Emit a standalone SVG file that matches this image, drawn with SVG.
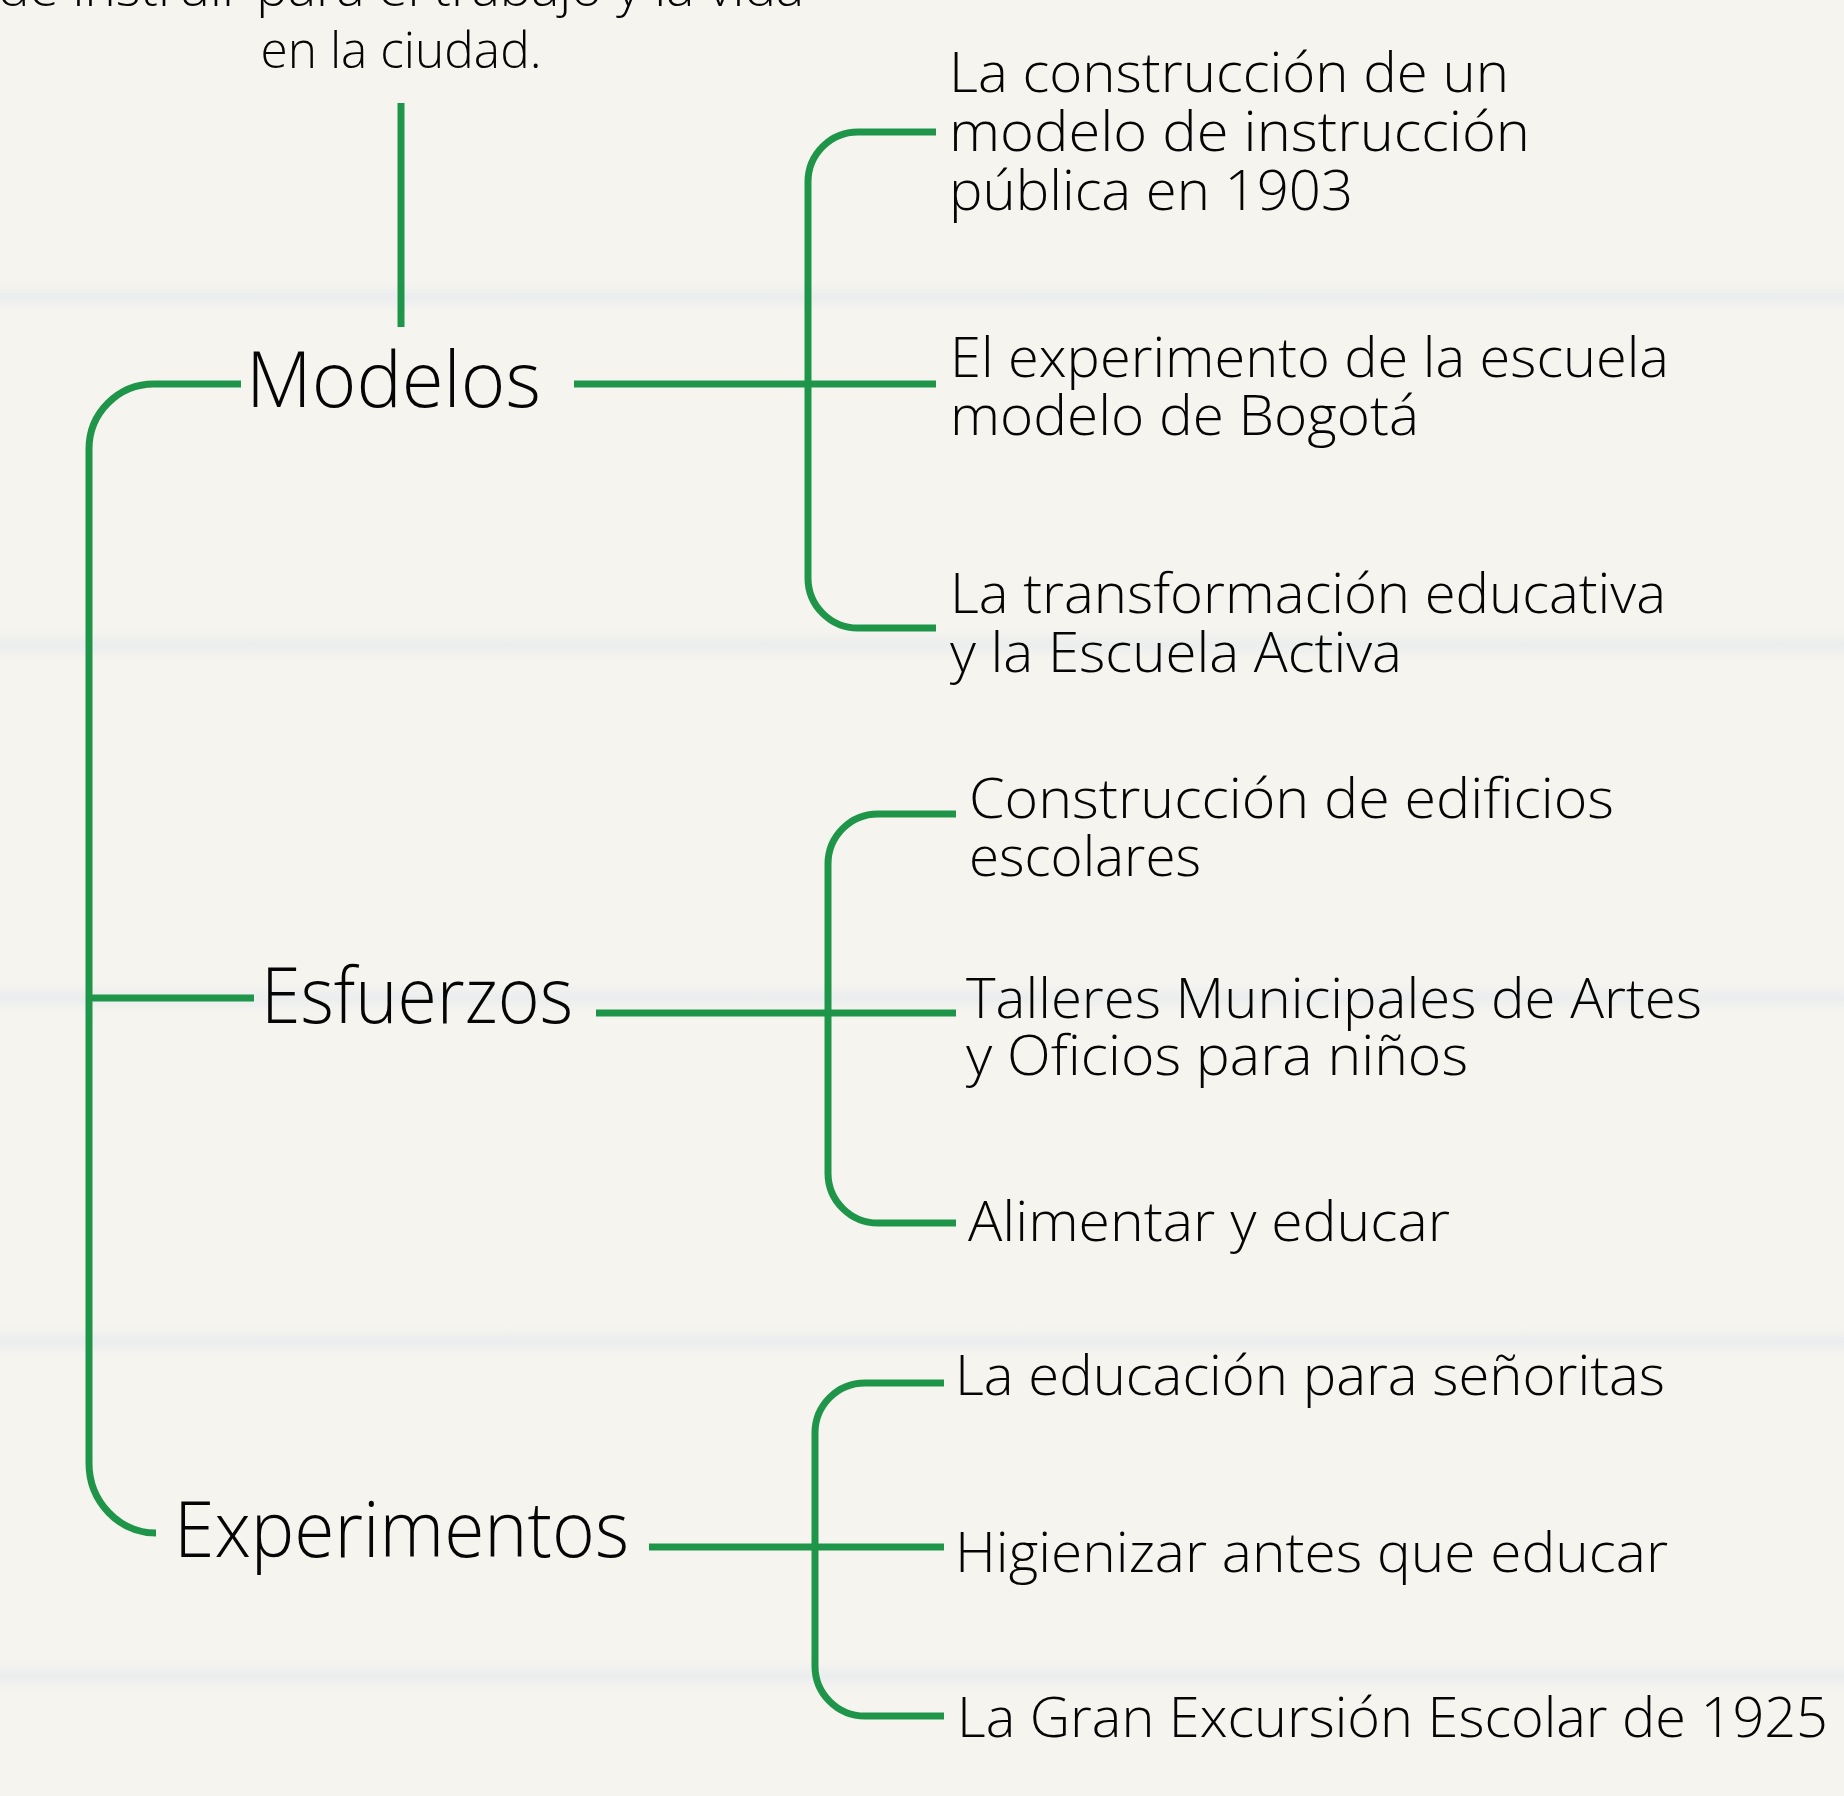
<svg xmlns="http://www.w3.org/2000/svg" width="1844" height="1796" viewBox="0 0 1844 1796">
<defs>
<style>
.t{font-family:"Open Sans","Liberation Sans",sans-serif;font-weight:300;fill:#050505}
.big{font-size:78px}
.sm{font-size:56px}
.top{font-size:50px;text-anchor:middle}
.c{fill:none;stroke:#1f9549;stroke-width:7;stroke-linecap:butt}
</style>
<linearGradient id="band" x1="0" y1="0" x2="0" y2="1">
<stop offset="0" stop-color="#e6ebee" stop-opacity="0"/>
<stop offset="0.5" stop-color="#e6ebee" stop-opacity="0.7"/>
<stop offset="1" stop-color="#e6ebee" stop-opacity="0"/>
</linearGradient>
</defs>
<rect width="1844" height="1796" fill="#f6f4ef"/>
<g id="background-bands">
<rect x="0" y="282" width="1844" height="30" fill="url(#band)"/>
<rect x="0" y="630" width="1844" height="30" fill="url(#band)"/>
<rect x="0" y="983" width="1844" height="30" fill="url(#band)"/>
<rect x="0" y="1326" width="1844" height="30" fill="url(#band)"/>
<rect x="0" y="1661" width="1844" height="30" fill="url(#band)"/>
</g>
<g id="connectors" class="c">
<path d="M401,103 V327"/>
<path d="M241,384 H154 A65,65 0 0 0 89,449 V1463 A67,70 0 0 0 156,1533"/>
<path d="M89,998 H254"/>
<path d="M574,384 H936"/>
<path d="M936,132 H858 A50,50 0 0 0 808,182 V578 A50,50 0 0 0 858,628 H936"/>
<path d="M596,1013 H956"/>
<path d="M956,814 H878 A50,50 0 0 0 828,864 V1173 A50,50 0 0 0 878,1223 H956"/>
<path d="M649,1547 H944"/>
<path d="M944,1383 H865 A50,50 0 0 0 815,1433 V1666 A50,50 0 0 0 865,1716 H944"/>
</g>
<g id="intro">
<text class="t top" x="401" y="6" textLength="806" lengthAdjust="spacingAndGlyphs">de instruir para el trabajo y la vida</text>
<text class="t top" x="401" y="68" textLength="281" lengthAdjust="spacingAndGlyphs">en la ciudad.</text>
</g>
<g id="modelos"><text class="t big" x="246" y="407" textLength="295" lengthAdjust="spacingAndGlyphs">Modelos</text></g>
<g id="esfuerzos"><text class="t big" x="261" y="1023" textLength="312" lengthAdjust="spacingAndGlyphs">Esfuerzos</text></g>
<g id="experimentos"><text class="t big" x="174" y="1557" textLength="455" lengthAdjust="spacingAndGlyphs">Experimentos</text></g>
<g id="m1"><text class="t sm" x="949" y="92" textLength="560" lengthAdjust="spacingAndGlyphs">La construcción de un</text><text class="t sm" x="949" y="151" textLength="581" lengthAdjust="spacingAndGlyphs">modelo de instrucción</text><text class="t sm" x="949" y="210" textLength="404" lengthAdjust="spacingAndGlyphs">pública en 1903</text></g>
<g id="m2"><text class="t sm" x="950" y="377" textLength="719" lengthAdjust="spacingAndGlyphs">El experimento de la escuela</text><text class="t sm" x="950" y="435" textLength="469" lengthAdjust="spacingAndGlyphs">modelo de Bogotá</text></g>
<g id="m3"><text class="t sm" x="950" y="613" textLength="716" lengthAdjust="spacingAndGlyphs">La transformación educativa</text><text class="t sm" x="950" y="672" textLength="452" lengthAdjust="spacingAndGlyphs">y la Escuela Activa</text></g>
<g id="e1"><text class="t sm" x="969" y="818" textLength="645" lengthAdjust="spacingAndGlyphs">Construcción de edificios</text><text class="t sm" x="969" y="876" textLength="232" lengthAdjust="spacingAndGlyphs">escolares</text></g>
<g id="e2"><text class="t sm" x="966" y="1018" textLength="736" lengthAdjust="spacingAndGlyphs">Talleres Municipales de Artes</text><text class="t sm" x="966" y="1075" textLength="502" lengthAdjust="spacingAndGlyphs">y Oficios para niños</text></g>
<g id="e3"><text class="t sm" x="968" y="1241" textLength="482" lengthAdjust="spacingAndGlyphs">Alimentar y educar</text></g>
<g id="x1"><text class="t sm" x="955" y="1395" textLength="710" lengthAdjust="spacingAndGlyphs">La educación para señoritas</text></g>
<g id="x2"><text class="t sm" x="955" y="1572" textLength="713" lengthAdjust="spacingAndGlyphs">Higienizar antes que educar</text></g>
<g id="x3"><text class="t sm" x="957" y="1737" textLength="871" lengthAdjust="spacingAndGlyphs">La Gran Excursión Escolar de 1925</text></g>
</svg>
